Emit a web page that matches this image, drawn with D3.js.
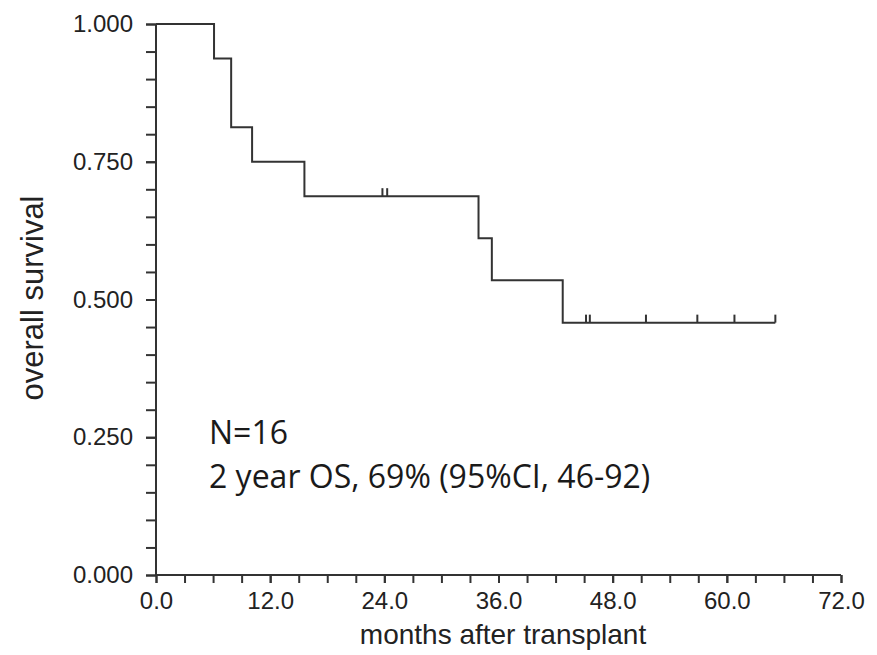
<!DOCTYPE html>
<html>
<head>
<meta charset="utf-8">
<script src="https://cdn.jsdelivr.net/npm/d3@7"></script>
<style>
  html, body { margin: 0; padding: 0; background: #fff; }
  svg { display: block; }
</style>
</head>
<body>
<svg id="chart" width="877" height="655"></svg>
<script>
// Kaplan-Meier overall survival after transplant (N=16)
const stepTimes = [0, 6.1, 7.9, 10.1, 15.6, 33.9, 35.3, 42.75];
const stepSurvival = [1.0, 0.9375, 0.8125, 0.75, 0.6875, 0.611, 0.535, 0.458];
const endTime = 65.1;
const censorTimes = [23.8, 24.3, 45.2, 45.6, 51.5, 56.9, 60.8, 65.1];
const censorSurvival = [0.6875, 0.6875, 0.458, 0.458, 0.458, 0.458, 0.458, 0.458];

const xMajorTicks = [0, 12, 24, 36, 48, 60, 72];
const xMajorLabels = ["0.0", "12.0", "24.0", "36.0", "48.0", "60.0", "72.0"];
const yMajorTicks = [0, 0.25, 0.5, 0.75, 1.0];
const yMajorLabels = ["0.000", "0.250", "0.500", "0.750", "1.000"];

const xTitle = "months after transplant";
const yTitle = "overall survival";
const noteLines = ["N=16", "2 year OS, 69% (95%CI, 46-92)"];

const ink = "#333";
const svg = d3.select("#chart");

const x = d3.scaleLinear().domain([0, 72]).range([156, 841]);
const y = d3.scaleLinear().domain([0, 1]).range([575, 24]);

const axisFont = "'Liberation Sans', Arial, sans-serif";

// minor ticks: every 3 months and every 0.05
const xMinor = d3.range(0, 72.001, 3);
const yMinor = d3.range(0, 1.0001, 0.05);

const gx = svg.append("g").attr("transform", `translate(0,${y(0)})`);
gx.call(d3.axisBottom(x).tickValues(xMinor).tickSize(8).tickFormat(""));
const gxMajor = svg.append("g").attr("transform", `translate(0,${y(0)})`);
gxMajor.call(d3.axisBottom(x).tickValues(xMajorTicks).tickSize(8)
  .tickFormat((d, i) => xMajorLabels[i]).tickPadding(9));
gxMajor.select(".domain").remove();

const gy = svg.append("g").attr("transform", `translate(${x(0)},0)`);
gy.call(d3.axisLeft(y).tickValues(yMinor).tickSize(10).tickFormat(""));
const gyMajor = svg.append("g").attr("transform", `translate(${x(0)},0)`);
gyMajor.call(d3.axisLeft(y).tickValues(yMajorTicks).tickSize(10)
  .tickFormat((d, i) => yMajorLabels[i]).tickPadding(13));
gyMajor.select(".domain").remove();

svg.selectAll(".domain").attr("stroke", ink).attr("stroke-width", 2);
gx.select(".domain").attr("d", `M${x(0)},0H${x(72)}`);
gy.select(".domain").attr("d", `M0,${y(1)}V${y(0)}`);
svg.selectAll(".tick line").attr("stroke", ink).attr("stroke-width", 2);
svg.selectAll(".tick text")
  .attr("fill", "#222")
  .style("font-family", axisFont)
  .style("font-size", "24px");

// axis titles
svg.append("text")
  .attr("x", 503)
  .attr("y", 644)
  .attr("text-anchor", "middle")
  .attr("fill", "#222")
  .style("font-family", axisFont)
  .style("font-size", "28px")
  .text(xTitle);

svg.append("text")
  .attr("transform", `translate(43,298) rotate(-90)`)
  .attr("text-anchor", "middle")
  .attr("fill", "#222")
  .style("font-family", axisFont)
  .style("font-size", "31px")
  .text(yTitle);

// survival step curve
const pts = stepTimes.map((t, i) => [t, stepSurvival[i]]);
pts.push([endTime, stepSurvival[stepSurvival.length - 1]]);
const line = d3.line()
  .x(d => x(d[0]))
  .y(d => y(d[1]))
  .curve(d3.curveStepAfter);
svg.append("path")
  .datum(pts)
  .attr("d", line)
  .attr("fill", "none")
  .attr("stroke", ink)
  .attr("stroke-width", 2);

// censor marks
svg.append("g").selectAll("line")
  .data(censorTimes.map((t, i) => [t, censorSurvival[i]]))
  .join("line")
  .attr("x1", d => x(d[0])).attr("x2", d => x(d[0]))
  .attr("y1", d => y(d[1])).attr("y2", d => y(d[1]) - 8)
  .attr("stroke", ink)
  .attr("stroke-width", 2);

// annotation
svg.append("g").selectAll("text")
  .data(noteLines)
  .join("text")
  .attr("x", 209)
  .attr("y", (d, i) => 444 + i * 44)
  .attr("fill", "#1a1a1a")
  .style("font-family", "'Open Sans', Lato, sans-serif")
  .style("font-size", "32px")
  .text(d => d);
</script>
</body>
</html>
